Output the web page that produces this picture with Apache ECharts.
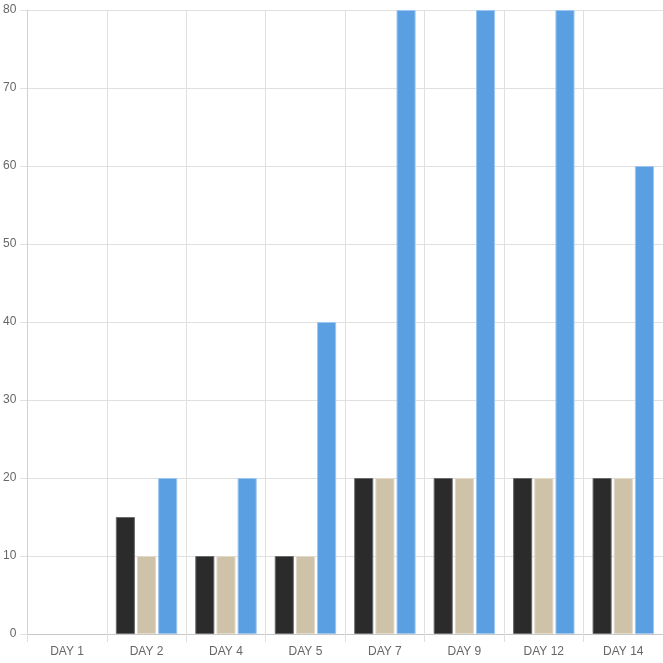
<!DOCTYPE html>
<html><head><meta charset="utf-8">
<script src="https://cdn.jsdelivr.net/npm/echarts@6/dist/echarts.min.js"></script>
<style>html,body{margin:0;padding:0;background:#fff}#c{width:663px;height:663px}</style>
</head><body><div id="c"></div>
<script>
const categories = ['DAY 1','DAY 2','DAY 4','DAY 5','DAY 7','DAY 9','DAY 12','DAY 14'];
const seriesDark = [0,15,10,10,20,20,20,20];
const seriesBeige = [0,10,10,10,20,20,20,20];
const seriesBlue = [0,20,20,40,80,80,80,60];
const yTicks = {min:0, max:80, interval:10};

const chart = echarts.init(document.getElementById('c'), null, {renderer:'canvas'});
const font = 'Liberation Sans, Arial, Helvetica, sans-serif';
function bar(name, data, color, border){
  return {name, type:'bar',
    data: data.map(v => v === 0 ? {value:v, itemStyle:{borderWidth:0}} : v),
    barWidth:'24%', barGap:'11%',
    itemStyle:{color, borderColor:border, borderWidth:1}};
}
chart.setOption({
  animation:false,
  grid:{left:27, right:0, top:10, bottom:29, containLabel:false},
  xAxis:{type:'category', data:categories,
    axisLine:{show:true, lineStyle:{color:'#c8c8c8'}},
    axisTick:{show:true, length:8, lineStyle:{color:'#e0e0e0'}},
    splitLine:{show:true, lineStyle:{color:'#e0e0e0'}},
    axisLabel:{color:'#666', fontSize:12, fontFamily:font, margin:12}},
  yAxis:{type:'value', min:yTicks.min, max:yTicks.max, interval:yTicks.interval,
    axisLine:{show:true, lineStyle:{color:'#d0d0d0'}},
    axisTick:{show:true, length:7, lineStyle:{color:'#e0e0e0'}},
    splitLine:{show:true, lineStyle:{color:'#e0e0e0'}},
    axisLabel:{color:'#666', fontSize:12, fontFamily:font, margin:11}},
  series:[
    bar('A', seriesDark, '#2b2b2b', '#6a6a6a'),
    bar('B', seriesBeige, '#cec2a9', '#e2dac8'),
    bar('C', seriesBlue, '#5a9fe2', '#9cc6f0')
  ]
});
</script></body></html>
